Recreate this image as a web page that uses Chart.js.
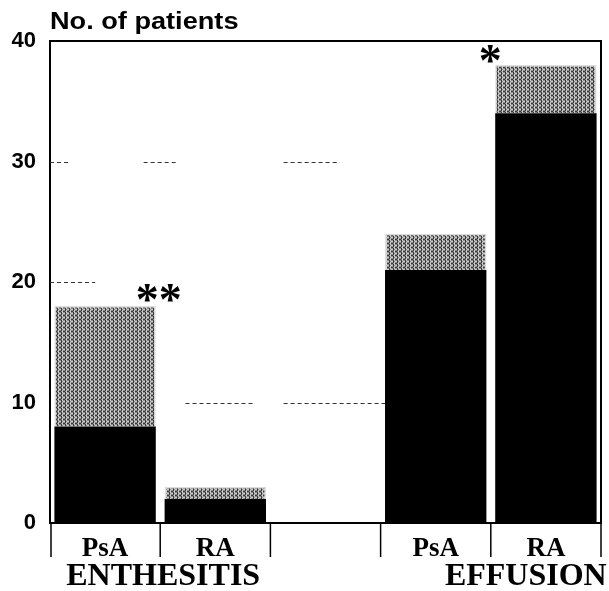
<!DOCTYPE html>
<html><head><meta charset="utf-8">
<script src="https://cdn.jsdelivr.net/npm/chart.js@4/dist/chart.umd.min.js"></script>
<style>html,body{margin:0;padding:0;background:#fff}#wrap{width:609px;height:591px;position:relative}</style>
</head><body><div id="wrap"><canvas id="c"></canvas></div>
<script>
// values
const categories=['PsA','RA','','PsA','RA'];
const solidPart=[8,2,null,21,34];
const shadedPart=[10,1,null,3,4];
const sigMarks=['**','','','','*'];
const groupLabels=['ENTHESITIS','EFFUSION'];
const groupSpans=[[0,1],[3,4]];
const yTicks=[0,10,20,30,40];
// faint dashed grid pieces that survived the scan: [value, from index, to index]
const dashRows=[[30,-0.5,-0.32],[30,0.35,0.65],[30,1.62,2.13],[20,-0.5,-0.09],[10,0.73,1.36],[10,1.62,2.56]];

function stipple(){
  const p=document.createElement('canvas');p.width=p.height=4;
  const g=p.getContext('2d');
  const map='1021201210210120', col=['#3a3a3a','#8a8a8a','#cccccc'];
  for(let i=0;i<16;i++){g.fillStyle=col[+map[i]];g.fillRect(i%4,(i/4)|0,1,1);}
  return g.createPattern(p,'repeat');
}

const decor={id:'decor',
  beforeDatasetsDraw(chart){
    const {ctx,scales:{x,y}}=chart;
    ctx.save();ctx.setLineDash([4,3]);ctx.strokeStyle='#333';ctx.lineWidth=1;
    dashRows.forEach(([v,a,b])=>{
      const yp=Math.round(y.getPixelForValue(v))+0.5;
      ctx.beginPath();ctx.moveTo(x.getPixelForValue(a),yp);ctx.lineTo(x.getPixelForValue(b),yp);ctx.stroke();
    });
    ctx.restore();
  },
  afterDraw(chart){
    const {ctx,chartArea:{left,right,top,bottom},scales:{x,y}}=chart;
    ctx.save();
    // frame
    ctx.strokeStyle='#000';ctx.lineWidth=2;
    ctx.beginPath();ctx.moveTo(left,top);ctx.lineTo(right,top);ctx.lineTo(right,bottom);ctx.lineTo(left,bottom);ctx.stroke();
    // label table under the axis
    ctx.lineWidth=1.5;
    for(let i=-1;i<categories.length;i++){
      const xp=i<0?left+1:i===categories.length-1?right:x.getPixelForValue(i+0.5);
      ctx.beginPath();ctx.moveTo(xp,bottom);ctx.lineTo(xp,bottom+34);ctx.stroke();
    }
    // group names
    const nudge=[3,35];
    ctx.fillStyle='#000';ctx.font='bold 32px "Liberation Serif"';ctx.textAlign='center';ctx.textBaseline='alphabetic';
    groupLabels.forEach((g,k)=>{
      const [a,b]=groupSpans[k];
      const cx=(x.getPixelForValue(a)+x.getPixelForValue(b))/2+nudge[k];
      ctx.fillText(g,cx,585);
    });
    // significance marks
    const meta=chart.getDatasetMeta(1);
    ctx.font='bold 46px "Liberation Serif"';
    sigMarks.forEach((s,i)=>{
      if(!s) return;
      const el=meta.data[i];
      const yt=y.getPixelForValue(solidPart[i]+shadedPart[i]);
      const cx=i<2?el.x+el.width/2+3:el.x-el.width/2-5;
      const cy=i<2?yt-13:yt-11;
      const m=ctx.measureText(s);
      ctx.fillText(s,cx,cy+(m.actualBoundingBoxAscent-m.actualBoundingBoxDescent)/2);
    });
    // axis title
    ctx.font='bold 23px "Liberation Sans"';ctx.textAlign='left';
    ctx.translate(left,29);ctx.scale(1.18,1);
    ctx.fillText('No. of patients',0,0);
    ctx.restore();
  }
};

new Chart(document.getElementById('c'),{
  type:'bar',
  data:{labels:categories,datasets:[
    {data:solidPart,backgroundColor:'#000',borderWidth:0},
    {data:shadedPart,backgroundColor:stipple(),borderColor:'#dcdcdc',borderWidth:1.5}
  ]},
  options:{
    responsive:true,maintainAspectRatio:false,animation:false,
    layout:{padding:{top:41,right:8,left:0,bottom:0}},
    datasets:{bar:{barPercentage:0.92,categoryPercentage:1}},
    plugins:{legend:{display:false},tooltip:{enabled:false}},
    scales:{
      x:{stacked:true,grid:{display:false,drawTicks:false},border:{display:false},
        ticks:{color:'#000',font:{family:'"Liberation Serif"',size:27,weight:'bold'},padding:10,maxRotation:0,autoSkip:false},
        afterFit(s){s.height=68;}},
      y:{stacked:true,min:0,max:40,grid:{display:false,drawTicks:false},border:{display:true,color:'#000',width:2},
        afterBuildTicks(s){s.ticks=yTicks.map(v=>({value:v}));},
        ticks:{color:'#000',font:{family:'"Liberation Sans"',size:22,weight:'bold'},padding:14},
        afterFit(s){s.width=50;}}
    }
  },
  plugins:[decor]
});
</script></body></html>
